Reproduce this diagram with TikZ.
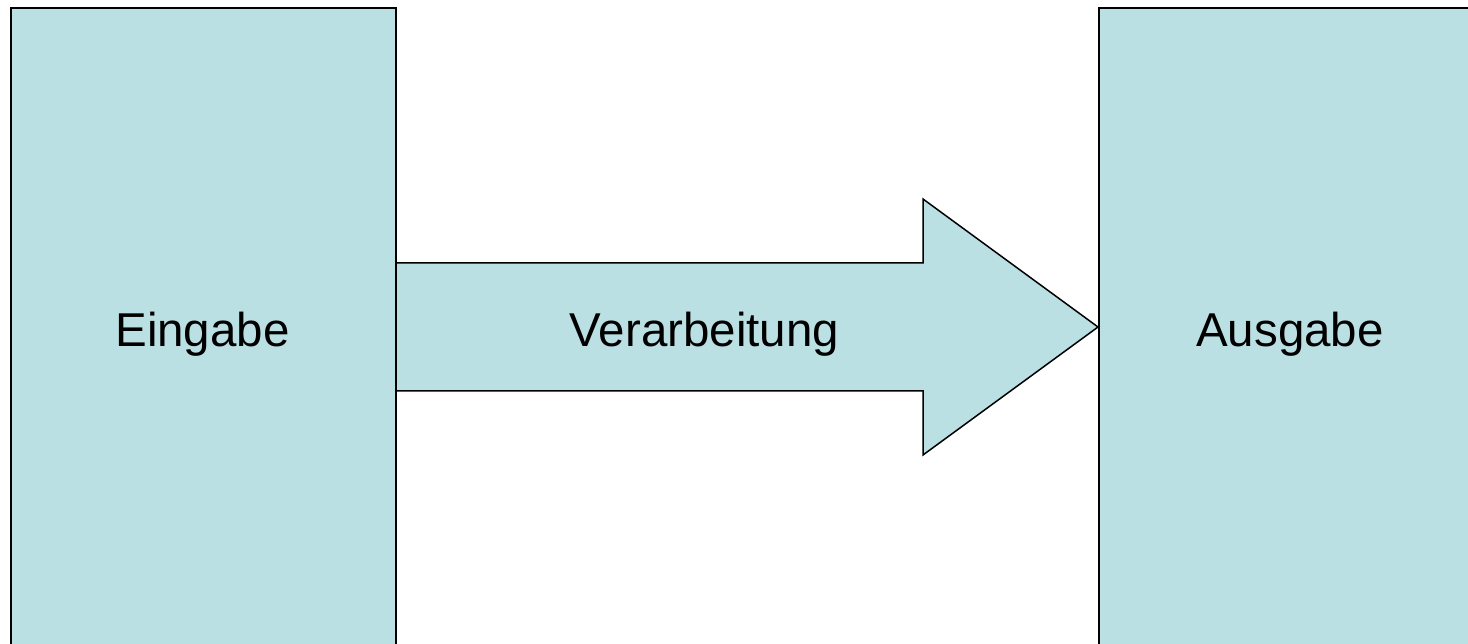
\documentclass[tikz,border=0pt]{standalone}
\usepackage{fontspec}
\setmainfont{Liberation Sans}
\definecolor{boxfill}{HTML}{BBE0E3}
\begin{document}
\begin{tikzpicture}[x=1pt,y=-1pt,
  blockbox/.style={draw=black,line width=2pt,fill=boxfill,rectangle,inner sep=0pt,anchor=north west},
  arrowshape/.style={draw=black,line width=1.5pt,fill=boxfill,line join=miter},
  lbl/.style={anchor=base,inner sep=0pt,font=\fontsize{47.5}{57}\selectfont}]
\useasboundingbox (0,0) rectangle (1468,644);
\clip (0,0) rectangle (1468,644);
% arrow coordinates
\coordinate (a1) at (395,263);
\coordinate (a2) at (923,263);
\coordinate (a3) at (923,199);
\coordinate (tip) at (1098,327);
\coordinate (a5) at (923,455);
\coordinate (a6) at (923,391);
\coordinate (a7) at (395,391);
\fill[boxfill] (a1) -- (a2) -- (a3) -- (tip) -- (a5) -- (a6) -- (a7) -- cycle;
\draw[arrowshape,fill=none] (a1) -- (a2) -- (a3) -- (tip) -- (a5) -- (a6) -- (a7);
\node[blockbox,minimum width=385pt,minimum height=644pt] (inp) at (10,7) {};
\node[blockbox,minimum width=385pt,minimum height=644pt] (outp) at (1098,7) {};
\node[lbl] (tin) at (202.5,347) {Eingabe};
\node[lbl] (tproc) at (704.5,347) {Verarbeitung};
\node[lbl] (tout) at (1290,347) {Ausgabe};
\end{tikzpicture}
\end{document}
